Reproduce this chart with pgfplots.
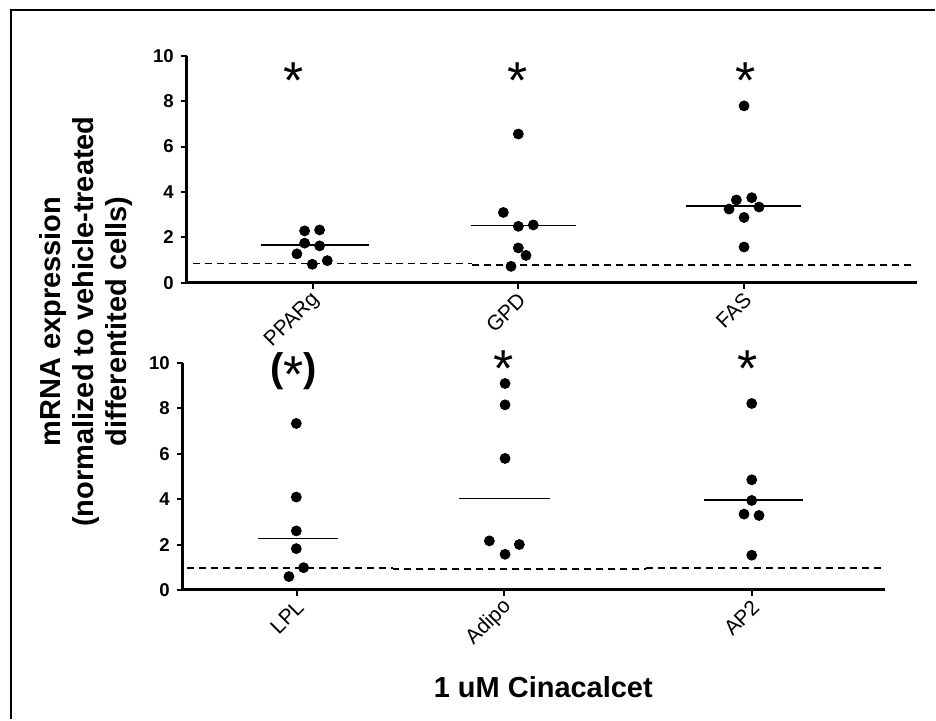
\documentclass[border=0pt]{standalone}
\usepackage{fontspec}
\setmainfont{Liberation Sans}
\usepackage{pgfplots}
\pgfplotsset{compat=1.18}

% 1 px of the 936x720 reference = 0.5pt
\pgfplotsset{
  panel/.style={
    scale only axis, clip=false,
    axis lines=left,
    axis line style={-, line width=1.5pt},
    ymin=0, ymax=10,
    ytick={0,2,4,6,8,10},
    yticklabels={0,2,4,6,8,10},
    tick align=outside,
    major tick length=3pt,
    tick style={line width=1pt, black},
    xticklabel style={rotate=45, anchor=east, xshift=2pt, yshift=-4pt,
      font=\fontsize{10.5}{12}\selectfont},
    yticklabel style={font=\fontsize{9.3}{11}\selectfont\bfseries},
  },
  dots/.style={only marks, mark=*, mark size=2.5pt, black},
  median/.style={black, line width=0.8pt},
  ctrl/.style={black, line width=0.8pt, dash pattern=on 3.5pt off 2.5pt},
}
\newcommand{\sig}{\fontsize{26}{26}\selectfont *}

\begin{document}
\begin{tikzpicture}
\begin{scope}[x=0.5pt, y=-0.5pt]
  \path (0,0) rectangle (936,720);
  \draw[line width=1.2pt] (11,720) -- (11,10) -- (936,10);
  \node[rotate=90, align=center, font=\fontsize{14.5}{16.5}\selectfont\bfseries]
    at (86,322) {mRNA expression\\(normalized to vehicle-treated\\differentited cells)};
  \node[anchor=base, font=\fontsize{14.5}{16.5}\selectfont\bfseries]
    at (544,698) {1 uM Cinacalcet};
\end{scope}

% top panel
\begin{axis}[panel,
  at={(93.5pt,-141.65pt)}, anchor=origin,
  width=365.5pt, height=113.8pt,
  xmin=187, xmax=918,
  xtick={313,519,745}, xticklabels={PPARg,GPD,FAS},
]
  \addplot[ctrl] coordinates {(193,0.85) (473,0.85)};
  \addplot[ctrl] coordinates {(473,0.79) (913,0.79)};
  \addplot[median] coordinates {(261.7,1.66) (369.3,1.66)};
  \addplot[median] coordinates {(471.7,2.52) (576.7,2.52)};
  \addplot[median] coordinates {(687.3,3.38) (801.7,3.38)};
  % PPARg
  \addplot[dots] coordinates {(305,2.29) (320,2.33) (305,1.75) (320,1.63) (297.3,1.28) (312.7,0.82) (327.7,0.98)};
  % GPD
  \addplot[dots] coordinates {(519,6.55) (504,3.10) (519,2.49) (534,2.55) (519,1.54) (526.7,1.21) (511.7,0.73)};
  % FAS
  \addplot[dots] coordinates {(745,7.79) (737.3,3.65) (752.7,3.75) (730,3.25) (760,3.34) (745,2.88) (745,1.58)};
  \node[anchor=base, inner sep=0pt] at (axis cs:294,8.12) {\sig};
  \node[anchor=base, inner sep=0pt] at (axis cs:518,8.12) {\sig};
  \node[anchor=base, inner sep=0pt] at (axis cs:747,8.12) {\sig};
\end{axis}

% bottom panel
\begin{axis}[panel,
  at={(91.5pt,-295.35pt)}, anchor=origin,
  width=351.5pt, height=113.7pt,
  xmin=183, xmax=886,
  xtick={297,505,753}, xticklabels={LPL,Adipo,AP2},
]
  \addplot[ctrl] coordinates {(187,0.97) (393,0.97)};
  \addplot[ctrl] coordinates {(393,0.91) (647,0.91)};
  \addplot[ctrl] coordinates {(647,0.97) (886,0.97)};
  \addplot[median] coordinates {(258.3,2.27) (338.3,2.27)};
  \addplot[median] coordinates {(459.3,4.02) (550.7,4.02)};
  \addplot[median] coordinates {(705,3.97) (804,3.97)};
  % LPL
  \addplot[dots] coordinates {(296.7,7.33) (296.7,4.09) (296.7,2.60) (296.7,1.82) (304,0.98) (289.3,0.59)};
  % Adipo
  \addplot[dots] coordinates {(505.7,9.09) (505.7,8.15) (505.7,5.79) (490,2.16) (520,2.00) (505.7,1.57)};
  % AP2
  \addplot[dots] coordinates {(752.7,8.21) (752.7,4.85) (752.7,3.94) (745,3.34) (760,3.28) (752.7,1.53)};
  \node[anchor=base, inner sep=0pt, font=\fontsize{20}{20}\selectfont\bfseries]
    at (axis cs:294,9.2) {(\raisebox{-6pt}{\mdseries\sig})};
  \node[anchor=base, inner sep=0pt] at (axis cs:504,8.95) {\sig};
  \node[anchor=base, inner sep=0pt] at (axis cs:749,8.95) {\sig};
\end{axis}
\end{tikzpicture}
\end{document}
